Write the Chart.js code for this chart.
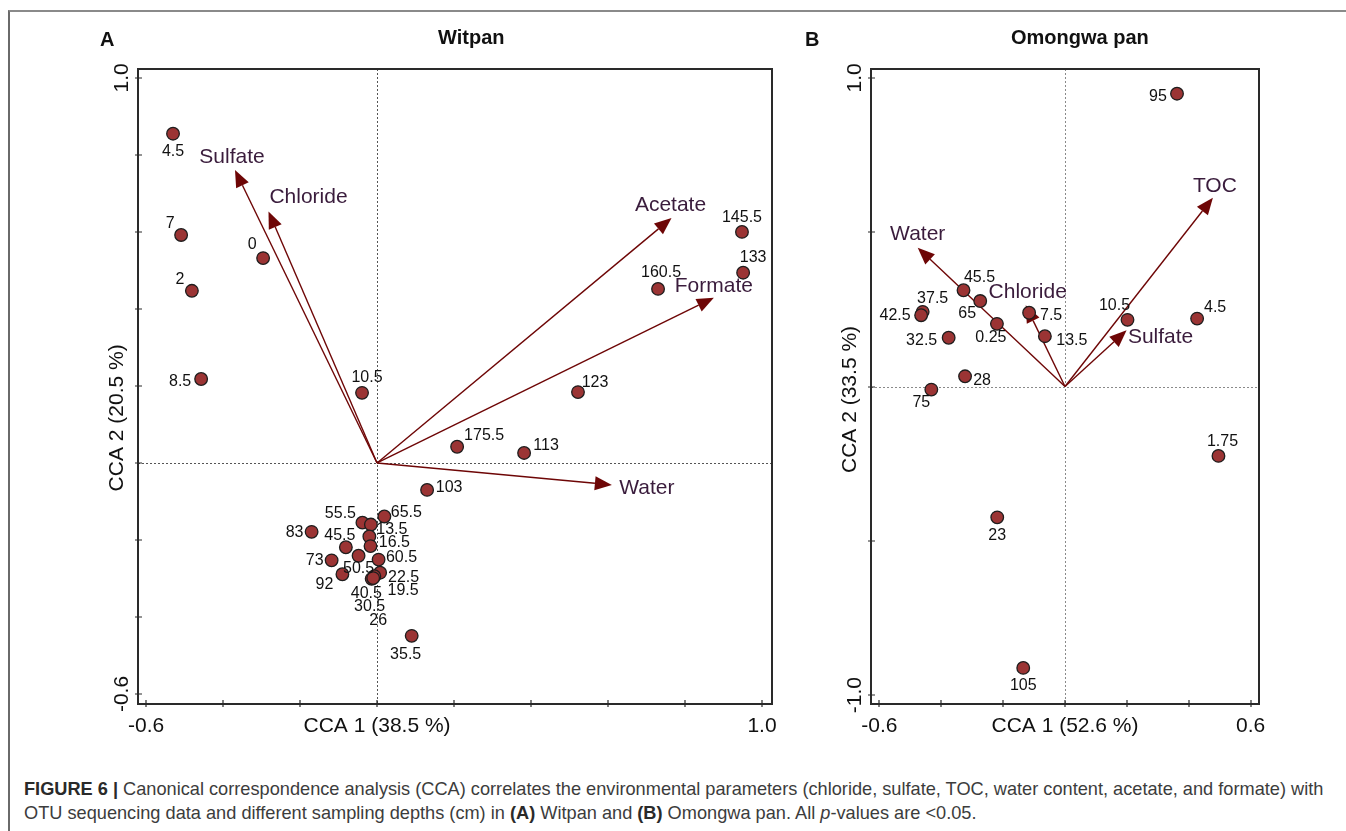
<!DOCTYPE html>
<html>
<head>
<meta charset="utf-8">
<script src="https://cdn.jsdelivr.net/npm/chart.js@4.4.1/dist/chart.umd.min.js"></script>
<style>
  body { margin: 0; background: #fff; font-family: "Liberation Sans", Arial, sans-serif; }
  #page { position: relative; width: 1346px; height: 831px; overflow: hidden; }
  #frame { position: absolute; left: 8px; top: 10px; width: 1400px; height: 900px;
           border-top: 2px solid #8a8a8a; border-left: 2px solid #6a6a6a; }
  canvas { position: absolute; top: 0; }
  .lbl { position: absolute; font-weight: bold; font-size: 20px; color: #111; white-space: nowrap; }
  #caption { position: absolute; left: 24px; top: 777px; font-size: 18.2px; line-height: 24px;
             color: #3c3c3c; white-space: nowrap; }
  #caption b { color: #2a2a2a; }
</style>
</head>
<body>
<div id="page">
  <div id="frame"></div>
  <canvas id="chartA" width="800" height="760" style="left:0"></canvas>
  <canvas id="chartB" width="546" height="760" style="left:800px"></canvas>
  <div class="lbl" style="left:100px;top:28px">A</div>
  <div class="lbl" style="left:438px;top:26px">Witpan</div>
  <div class="lbl" style="left:805px;top:28px">B</div>
  <div class="lbl" style="left:1011px;top:26px">Omongwa pan</div>
  <div id="caption"><b>FIGURE 6 |</b> Canonical correspondence analysis (CCA) correlates the environmental parameters (chloride, sulfate, TOC, water content, acetate, and formate) with<br>OTU sequencing data and different sampling depths (cm) in <b>(A)</b> Witpan and <b>(B)</b> Omongwa pan. All <i>p</i>-values are &lt;0.05.</div>
</div>
<script>
// Witpan - sample scores (depth in cm)
const witpanDepths = ['4.5','7','2','8.5','0','10.5','145.5','133','160.5','123','175.5','113','103',
  '65.5','55.5','13.5','83','16.5','45.5','60.5','50.5','73','22.5','92','19.5','40.5','30.5','26','35.5'];
const witpanX = [-0.530,-0.509,-0.481,-0.457,-0.296,-0.039,0.948,0.951,0.730,0.522,0.208,0.382,0.130,
  0.019,-0.038,-0.016,-0.170,-0.020,-0.081,-0.017,-0.048,-0.118,0.004,-0.090,0.008,-0.007,-0.014,-0.010,0.090];
const witpanY = [0.855,0.592,0.447,0.218,0.532,0.182,0.600,0.494,0.452,0.184,0.042,0.026,-0.070,
  -0.139,-0.155,-0.160,-0.179,-0.191,-0.219,-0.216,-0.241,-0.253,-0.251,-0.289,-0.285,-0.294,-0.301,-0.299,-0.449];
// Witpan - environmental vectors
const witpanVars = ['Sulfate','Chloride','Acetate','Formate','Water'];
const witpanVarX = [-0.369,-0.282,0.765,0.875,0.610];
const witpanVarY = [0.761,0.653,0.636,0.429,-0.057];

// Omongwa pan - sample scores
const omongwaDepths = ['95','45.5','65','37.5','42.5','0.25','7.5','13.5','32.5','28','75','10.5','4.5','1.75','23','105'];
const omongwaX = [0.362,-0.328,-0.274,-0.460,-0.465,-0.220,-0.116,-0.065,-0.376,-0.323,-0.432,0.202,0.427,0.496,-0.219,-0.135];
const omongwaY = [0.949,0.312,0.277,0.242,0.231,0.203,0.239,0.163,0.158,0.033,-0.010,0.216,0.220,-0.225,-0.424,-0.912];
// Omongwa pan - environmental vectors
const omongwaVars = ['Water','Chloride','TOC','Sulfate'];
const omongwaVarX = [-0.476,-0.127,0.478,0.199];
const omongwaVarY = [0.450,0.263,0.612,0.182];

// tick values and labels
const witpanXTicks = [-0.6,-0.4,-0.2,0,0.2,0.4,0.6,0.8,1.0];
const witpanYTicks = [-0.6,-0.4,-0.2,0,0.2,0.4,0.6,0.8,1.0];
const omongwaXTicks = [-0.6,-0.4,-0.2,0,0.2,0.4,0.6];
const omongwaYTicks = [-1.0,-0.5,0,0.5,1.0];
const witpanXTitle = 'CCA 1 (38.5 %)', witpanYTitle = 'CCA 2 (20.5 %)';
const omongwaXTitle = 'CCA 1 (52.6 %)', omongwaYTitle = 'CCA 2 (33.5 %)';

// label placement (pixel shift of text centre from its mark)
const witpanLabelShift = [[0,18],[-11,-11],[-12,-11],[-21,3],[-11,-13],[5,-15],[0,-14],[10,-15],[3,-16],[17,-9],[27,-11],[22,-7],[22,-2],
  [22,-4],[-22,-9],[21,5],[-17,1],[25,6],[-6,-12],[31,11],[0,13],[-17,0],[25,18],[-18,10],[23,18],[-8,17],[-2,28],[5,43],[-6,19]];
const witpanVarShift = [[-3,-13],[40,-14],[-1,-13],[0,-12],[35,3]];
const omongwaLabelShift = [[-19,3],[16,-13],[-13,13],[10,-13],[-26,0],[-6,14],[22,3],[27,4],[-27,3],[17,4],[-10,13],[-13,-14],[18,-11],[4,-14],[0,18],[0,18]];
const omongwaVarShift = [[0,-13],[2,-13],[2,-11],[34,7]];

const FONT = '"Liberation Sans", Arial, sans-serif';

const ccaPlugin = {
  id: 'cca',
  beforeDatasetsDraw(chart, args, o) {
    const { ctx, chartArea: a, scales: { x, y } } = chart;
    const x0 = x.getPixelForValue(0), y0 = y.getPixelForValue(0);
    ctx.save();
    // dotted zero lines
    ctx.strokeStyle = o.zeroColor;
    ctx.lineWidth = 1;
    ctx.setLineDash([2, 2]);
    ctx.beginPath();
    ctx.moveTo(Math.round(x0) + 0.5, a.top); ctx.lineTo(Math.round(x0) + 0.5, a.bottom);
    ctx.moveTo(a.left, Math.round(y0) + 0.5); ctx.lineTo(a.right, Math.round(y0) + 0.5);
    ctx.stroke();
    ctx.setLineDash([]);
    // environmental arrows
    const arrowCol = '#6e0606';
    o.vars.forEach((name, i) => {
      const tx = x.getPixelForValue(o.varX[i]), ty = y.getPixelForValue(o.varY[i]);
      const ang = Math.atan2(ty - y0, tx - x0);
      const hl = 17, hw = 7;
      const bx = tx - hl * Math.cos(ang), by = ty - hl * Math.sin(ang);
      ctx.strokeStyle = arrowCol;
      ctx.lineWidth = 1.4;
      ctx.beginPath(); ctx.moveTo(x0, y0); ctx.lineTo(bx, by); ctx.stroke();
      ctx.fillStyle = arrowCol;
      ctx.beginPath();
      ctx.moveTo(tx, ty);
      ctx.lineTo(bx + hw * Math.sin(ang), by - hw * Math.cos(ang));
      ctx.lineTo(bx - hw * Math.sin(ang), by + hw * Math.cos(ang));
      ctx.closePath(); ctx.fill();
      ctx.fillStyle = '#3a1c3c';
      ctx.font = '21px ' + FONT;
      ctx.textAlign = 'center'; ctx.textBaseline = 'middle';
      ctx.fillText(name, tx + o.varShift[i][0], ty + o.varShift[i][1]);
    });
    ctx.restore();
  },
  afterDatasetsDraw(chart, args, o) {
    const { ctx, chartArea: a, scales: { x, y } } = chart;
    ctx.save();
    // sample labels
    const meta = chart.getDatasetMeta(0);
    ctx.fillStyle = '#111';
    ctx.font = '16px ' + FONT;
    ctx.textAlign = 'center'; ctx.textBaseline = 'middle';
    meta.data.forEach((pt, i) => {
      ctx.fillText(o.labels[i], pt.x + o.shift[i][0], pt.y + o.shift[i][1]);
    });
    // frame
    ctx.strokeStyle = '#2a2a2a';
    ctx.lineWidth = 2;
    ctx.strokeRect(a.left, a.top, a.right - a.left, a.bottom - a.top);
    // ticks crossing the axis lines
    ctx.lineWidth = 1.2;
    ctx.beginPath();
    o.xTicks.forEach(v => {
      const px = Math.round(x.getPixelForValue(v));
      ctx.moveTo(px, a.bottom - 4); ctx.lineTo(px, a.bottom + 3);
    });
    o.yTicks.forEach(v => {
      const py = Math.round(y.getPixelForValue(v));
      ctx.moveTo(a.left - 3, py); ctx.lineTo(a.left + 4, py);
    });
    ctx.stroke();
    // tick labels at the ends only, titles in the middle
    ctx.fillStyle = '#111';
    ctx.font = '21px ' + FONT;
    const xs = o.xTicks, ys = o.yTicks;
    const fmt = v => v.toFixed(1);
    const ly = a.bottom + 22;
    ctx.fillText(fmt(xs[0]), x.getPixelForValue(xs[0]), ly);
    ctx.fillText(fmt(xs[xs.length - 1]), x.getPixelForValue(xs[xs.length - 1]), ly);
    ctx.fillText(o.xTitle, x.getPixelForValue(0), ly);
    const rot = (txt, cx, cy) => {
      ctx.save(); ctx.translate(cx, cy); ctx.rotate(-Math.PI / 2);
      ctx.fillText(txt, 0, 0); ctx.restore();
    };
    rot(fmt(ys[0]), a.left - 16, y.getPixelForValue(ys[0]));
    rot(fmt(ys[ys.length - 1]), a.left - 16, y.getPixelForValue(ys[ys.length - 1]));
    rot(o.yTitle, a.left - 21, y.getPixelForValue(o.yTitleAt));
    ctx.restore();
  }
};

function makeChart(id, xs, ys, opts, padding, xr, yr) {
  const pts = xs.map((v, i) => ({ x: v, y: ys[i] }));
  return new Chart(document.getElementById(id), {
    type: 'scatter',
    data: {
      datasets: [{
        data: pts,
        pointRadius: 6.3,
        pointBackgroundColor: '#9b3434',
        pointBorderColor: '#1e1e1e',
        pointBorderWidth: 1.3
      }]
    },
    options: {
      responsive: false,
      animation: false,
      devicePixelRatio: 1,
      layout: { padding: padding },
      plugins: { legend: { display: false }, tooltip: { enabled: false }, cca: opts },
      scales: {
        x: { type: 'linear', min: xr[0], max: xr[1], display: false },
        y: { type: 'linear', min: yr[0], max: yr[1], display: false }
      }
    },
    plugins: [ccaPlugin]
  });
}

makeChart('chartA', witpanX, witpanY, {
  labels: witpanDepths, shift: witpanLabelShift,
  vars: witpanVars, varX: witpanVarX, varY: witpanVarY, varShift: witpanVarShift,
  xTicks: witpanXTicks, yTicks: witpanYTicks,
  xTitle: witpanXTitle, yTitle: witpanYTitle, yTitleAt: 0.117,
  zeroColor: '#555'
}, { left: 138, top: 69, right: 28, bottom: 56 }, [-0.621, 1.026], [-0.626, 1.023]);

makeChart('chartB', omongwaX, omongwaY, {
  labels: omongwaDepths, shift: omongwaLabelShift,
  vars: omongwaVars, varX: omongwaVarX, varY: omongwaVarY, varShift: omongwaVarShift,
  xTicks: omongwaXTicks, yTicks: omongwaYTicks,
  xTitle: omongwaXTitle, yTitle: omongwaYTitle, yTitleAt: -0.042,
  zeroColor: '#8a8a8a'
}, { left: 71, top: 69, right: 87, bottom: 56 }, [-0.627, 0.627], [-1.029, 1.029]);
</script>
</body>
</html>
